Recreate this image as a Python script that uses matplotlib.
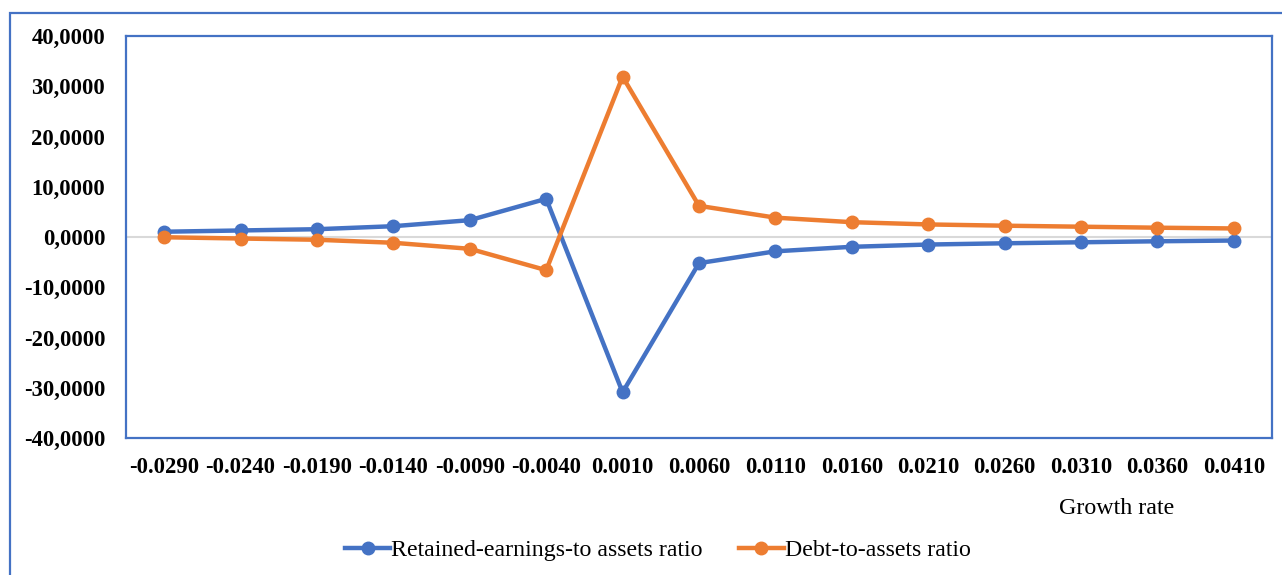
import numpy as np
import matplotlib.pyplot as plt
from matplotlib.patches import Rectangle
from matplotlib.ticker import FuncFormatter

growth = ['-0.0290', '-0.0240', '-0.0190', '-0.0140', '-0.0090', '-0.0040', '0.0010',
          '0.0060', '0.0110', '0.0160', '0.0210', '0.0260', '0.0310', '0.0360', '0.0410']
retained = [1.05, 1.3, 1.55, 2.15, 3.35, 7.6, -30.9, -5.2, -2.85, -1.95, -1.5, -1.25, -1.05, -0.85, -0.7]
debt = [-0.05, -0.3, -0.55, -1.15, -2.35, -6.6, 31.9, 6.2, 3.85, 2.95, 2.5, 2.25, 2.05, 1.85, 1.7]

blue = '#4472C4'
orange = '#ED7D31'
plt.rcParams['font.family'] = ['Liberation Serif', 'DejaVu Serif']

fig = plt.figure(figsize=(12.82, 5.75), dpi=100)
ax = fig.add_axes([126/1282, 1-438/575, (1272-126)/1282, (438-36)/575])

# outer chart frame
fig.patches.append(Rectangle((10/1282, -0.1), 1.2, 1.1 - 13/575, transform=fig.transFigure,
                             fill=False, edgecolor=blue, lw=1.6))

x = np.arange(len(growth))
ax.axhline(0, color='#D9D9D9', lw=1.5, zorder=1)
ax.plot(x, retained, color=blue, lw=3.2, marker='o', ms=9, label='Retained-earnings-to assets ratio', zorder=3)
ax.plot(x, debt, color=orange, lw=3.2, marker='o', ms=9, label='Debt-to-assets ratio', zorder=3)

ax.set_xlim(-0.5, len(growth) - 0.5)
ax.set_ylim(-40, 40)
ax.set_yticks(np.arange(-40, 41, 10))
ax.yaxis.set_major_formatter(FuncFormatter(lambda v, p: f'{v:.4f}'.replace('.', ',')))
ax.set_xticks(x)
ax.set_xticklabels(growth)
ax.tick_params(axis='both', length=0, labelsize=16.3)
ax.tick_params(axis='x', pad=14)
ax.tick_params(axis='y', pad=15)
for lab in ax.get_xticklabels() + ax.get_yticklabels():
    lab.set_fontweight('bold')
for s in ax.spines.values():
    s.set_color(blue)
    s.set_linewidth(1.6)

fig.text(1117/1282, 1-509/575, 'Growth rate', ha='center', va='center', fontsize=17.3)
fig.legend(loc='center', bbox_to_anchor=(658/1282, 1-550/575), ncol=2, frameon=False,
           fontsize=17.2, handlelength=1.9, handletextpad=0.05, columnspacing=1.5)

fig.savefig('out.png', dpi=100)
